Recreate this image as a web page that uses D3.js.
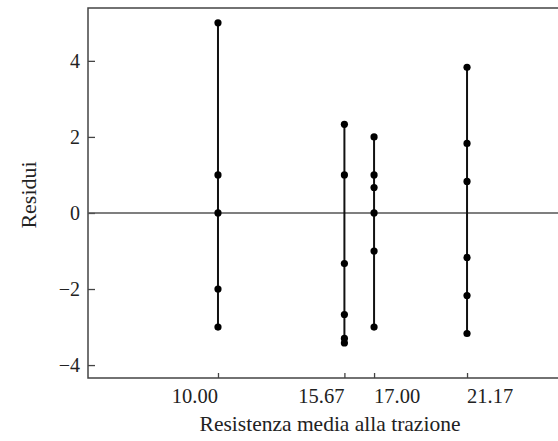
<!DOCTYPE html>
<html>
<head>
<meta charset="utf-8">
<script src="https://cdn.jsdelivr.net/npm/d3@7"></script>
<style>
  body { margin: 0; background: #fff; }
  svg text { font-family: "Liberation Serif", "Times New Roman", serif; fill: #222; }
</style>
</head>
<body>
<div id="chart"></div>
<script>
// fitted group means (x) and residuals
var fitted = [10.00, 15.67, 17.00, 21.17];
var residuals10 = [5, 1, 0, -2, -3];
var residuals1567 = [2.33, 1, -1.33, -2.67, -3.3, -3.42];
var residuals17 = [2, 1, 0.67, 0, -1, -3];
var residuals2117 = [3.83, 1.83, 0.83, -1.17, -2.17, -3.17];
var yTicks = [-4, -2, 0, 2, 4];
var xTickLabels = ["10.00", "15.67", "17.00", "21.17"];
// labels sit to one side of their tick so 15.67 and 17.00 don't collide
var xLabelAnchor = ["end", "end", "start", "start"];

var groups = [residuals10, residuals1567, residuals17, residuals2117];

var width = 558, height = 441;
var margin = { top: 8, right: 0, bottom: 63, left: 88 };

var svg = d3.select("#chart").append("svg")
  .attr("width", width)
  .attr("height", height);

var x = d3.scaleLinear().domain([4.17, 25.25]).range([margin.left, width - margin.right]);
var y = d3.scaleLinear().domain([-4.34, 5.39]).range([height - margin.bottom, margin.top]);

// frame: left, top, bottom (no right border visible)
svg.append("path")
  .attr("d", "M" + (width) + "," + y.range()[1] + "H" + x.range()[0] + "V" + y.range()[0] + "H" + width)
  .attr("fill", "none")
  .attr("stroke", "#444")
  .attr("stroke-width", 1.5);

// y axis ticks (pointing inward)
var yAxis = d3.axisRight(y).tickValues(yTicks).tickSize(7).tickFormat("");
svg.append("g")
  .attr("transform", "translate(" + x.range()[0] + ",0)")
  .call(yAxis)
  .call(function (g) { g.select(".domain").remove(); })
  .selectAll("line").attr("stroke", "#444").attr("stroke-width", 1.3);

svg.selectAll(".ylab")
  .data(yTicks)
  .enter().append("text")
  .attr("class", "ylab")
  .attr("x", x.range()[0] - 8)
  .attr("y", function (d) { return y(d); })
  .attr("dy", "0.35em")
  .attr("text-anchor", "end")
  .attr("font-size", 20)
  .text(function (d) { return d < 0 ? "\u2212" + Math.abs(d) : d; });

// x axis ticks (pointing inward)
var xAxis = d3.axisTop(x).tickValues(fitted).tickSize(5).tickFormat("");
svg.append("g")
  .attr("transform", "translate(0," + y.range()[0] + ")")
  .call(xAxis)
  .call(function (g) { g.select(".domain").remove(); })
  .selectAll("line").attr("stroke", "#444").attr("stroke-width", 1.3);

svg.selectAll(".xlab")
  .data(fitted)
  .enter().append("text")
  .attr("class", "xlab")
  .attr("x", function (d) { return x(d); })
  .attr("y", 403)
  .attr("text-anchor", function (d, i) { return xLabelAnchor[i]; })
  .attr("font-size", 20.5)
  .text(function (d, i) { return xTickLabels[i]; });

// zero reference line
svg.append("line")
  .attr("x1", x.range()[0]).attr("x2", width)
  .attr("y1", y(0)).attr("y2", y(0))
  .attr("stroke", "#555")
  .attr("stroke-width", 1.5);

// vertical range lines
svg.selectAll(".range")
  .data(groups)
  .enter().append("line")
  .attr("class", "range")
  .attr("x1", function (d, i) { return x(fitted[i]); })
  .attr("x2", function (d, i) { return x(fitted[i]); })
  .attr("y1", function (d) { return y(d3.max(d)); })
  .attr("y2", function (d) { return y(d3.min(d)); })
  .attr("stroke", "#111")
  .attr("stroke-width", 2);

// points
groups.forEach(function (g, i) {
  svg.selectAll(".pt" + i)
    .data(g)
    .enter().append("circle")
    .attr("class", "pt" + i)
    .attr("cx", x(fitted[i]))
    .attr("cy", function (d) { return y(d); })
    .attr("r", 3.6)
    .attr("fill", "#000");
});

// axis titles
svg.append("text")
  .attr("x", 330)
  .attr("y", 431)
  .attr("text-anchor", "middle")
  .attr("font-size", 21.5)
  .text("Resistenza media alla trazione");

svg.append("text")
  .attr("transform", "translate(36,195) rotate(-90)")
  .attr("text-anchor", "middle")
  .attr("font-size", 22)
  .text("Residui");
</script>
</body>
</html>
